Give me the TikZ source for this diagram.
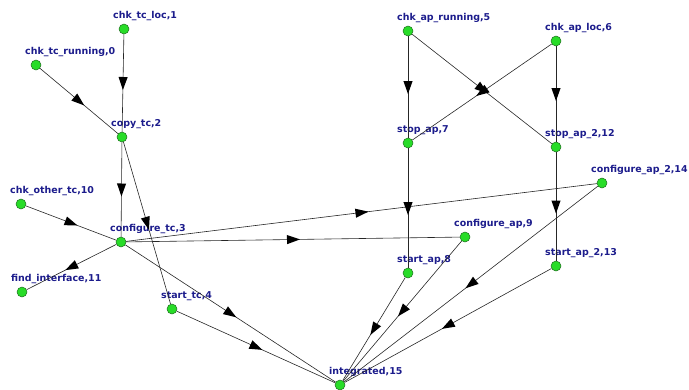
\documentclass[tikz,border=0pt]{standalone}
\usepackage{fontspec}
\setmainfont{DejaVu Sans}
\usetikzlibrary{decorations.markings}
\definecolor{vgreen}{RGB}{40,220,40}
\definecolor{vedge}{RGB}{30,110,30}
\definecolor{lblue}{RGB}{28,28,140}
\tikzset{
  vtx/.style={circle, fill=vgreen, draw=vedge, line width=0.5bp, minimum size=10bp, inner sep=0pt},
  lbl/.style={anchor=base west, inner sep=0pt, text=lblue, font=\fontsize{9.5}{11}\selectfont\bfseries},
  edge/.style={draw=black!85, line width=0.6bp,
    postaction={decorate, decoration={markings,
      mark=at position 0.5 with {\fill[black] (7,0) -- (-6,4.6) -- (-6,-4.6) -- cycle;}}}}
}
\begin{document}
\begin{tikzpicture}[x=1bp, y=-1bp]
\useasboundingbox (0,0) rectangle (689,389);
% vertices
\node[vtx] (n0)  at (36,65)  {};
\node[vtx] (n1)  at (124,29) {};
\node[vtx] (n2)  at (122,137) {};
\node[vtx] (n3)  at (121,242) {};
\node[vtx] (n4)  at (172,309) {};
\node[vtx] (n5)  at (408,31) {};
\node[vtx] (n6)  at (556,41) {};
\node[vtx] (n7)  at (408,143) {};
\node[vtx] (n8)  at (408,273) {};
\node[vtx] (n9)  at (465,237) {};
\node[vtx] (n10) at (21,204) {};
\node[vtx] (n11) at (22,292) {};
\node[vtx] (n12) at (556,147) {};
\node[vtx] (n13) at (556,266) {};
\node[vtx] (n14) at (602,183) {};
\node[vtx] (n15) at (340,385) {};
% labels
\path (n0)  ++(-11,-10.5) node[lbl] (l0)  {chk\_tc\_running,0};
\path (n1)  ++(-11,-10.5) node[lbl] (l1)  {chk\_tc\_loc,1};
\path (n2)  ++(-11,-10.5) node[lbl] (l2)  {copy\_tc,2};
\path (n3)  ++(-11,-10.5) node[lbl] (l3)  {configure\_tc,3};
\path (n4)  ++(-11,-10.5) node[lbl] (l4)  {start\_tc,4};
\path (n5)  ++(-11,-10.5) node[lbl] (l5)  {chk\_ap\_running,5};
\path (n6)  ++(-11,-10.5) node[lbl] (l6)  {chk\_ap\_loc,6};
\path (n7)  ++(-11,-10.5) node[lbl] (l7)  {stop\_ap,7};
\path (n8)  ++(-11,-10.5) node[lbl] (l8)  {start\_ap,8};
\path (n9)  ++(-11,-10.5) node[lbl] (l9)  {configure\_ap,9};
\path (n10) ++(-11,-10.5) node[lbl] (l10) {chk\_other\_tc,10};
\path (n11) ++(-11,-10.5) node[lbl] (l11) {find\_interface,11};
\path (n12) ++(-11,-10.5) node[lbl] (l12) {stop\_ap\_2,12};
\path (n13) ++(-11,-10.5) node[lbl] (l13) {start\_ap\_2,13};
\path (n14) ++(-11,-10.5) node[lbl] (l14) {configure\_ap\_2,14};
\path (n15) ++(-11,-10.5) node[lbl] (l15) {integrated,15};
% edges
\draw[edge] (n0) -- (n2);
\draw[edge] (n1) -- (n2);
\draw[edge] (n2) -- (n3);
\draw[edge] (n2) -- (n4);
\draw[edge] (n10) -- (n3);
\draw[edge] (n3) -- (n11);
\draw[edge] (n3) -- (n9);
\draw[edge] (n3) -- (n14);
\draw[edge] (n3) -- (n15);
\draw[edge] (n4) -- (n15);
\draw[edge] (n5) -- (n7);
\draw[edge] (n5) -- (n12);
\draw[edge] (n6) -- (n7);
\draw[edge] (n6) -- (n12);
\draw[edge] (n7) -- (n8);
\draw[edge] (n12) -- (n13);
\draw[edge] (n8) -- (n15);
\draw[edge] (n9) -- (n15);
\draw[edge] (n13) -- (n15);
\draw[edge] (n14) -- (n15);
\end{tikzpicture}
\end{document}
